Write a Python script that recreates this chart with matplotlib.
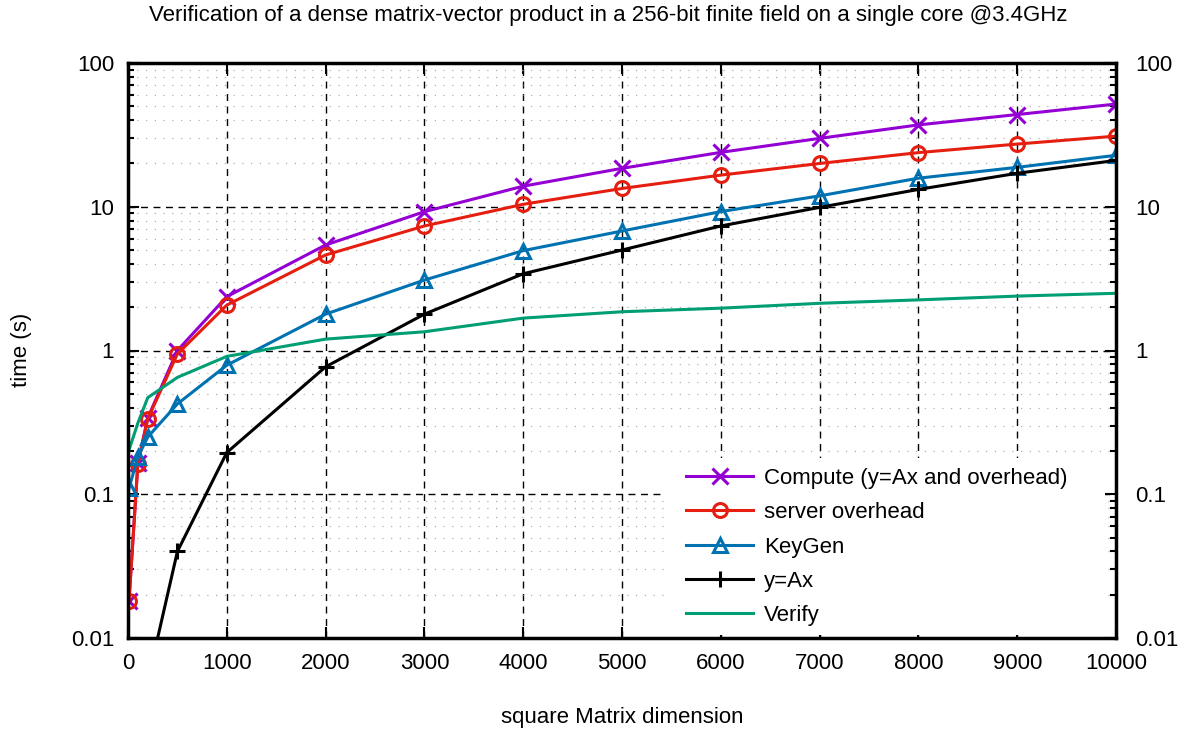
import matplotlib
matplotlib.use("Agg")
import matplotlib.pyplot as plt
from matplotlib.patches import Rectangle
from matplotlib.ticker import LogLocator, FixedLocator, NullFormatter, FuncFormatter

plt.rcParams['font.family'] = ['Liberation Sans', 'DejaVu Sans']
plt.rcParams['font.size'] = 16

# matrix dimension
n = [10, 100, 200, 500, 1000, 2000, 3000, 4000, 5000, 6000, 7000, 8000, 9000, 10000]

compute = [0.018, 0.165, 0.34, 1.0, 2.37, 5.42, 9.24, 13.9, 18.5, 23.9, 29.9, 37.1, 43.8, 51.8]
server = [0.018, 0.162, 0.334, 0.946, 2.07, 4.62, 7.35, 10.4, 13.4, 16.6, 20.0, 23.8, 27.3, 31.0]
keygen = [0.11, 0.182, 0.25, 0.425, 0.79, 1.79, 3.09, 4.95, 6.78, 9.25, 11.9, 15.8, 18.8, 22.8]
yax = [0.00002, 0.0013, 0.005, 0.040, 0.195, 0.77, 1.79, 3.42, 5.0, 7.35, 9.9, 13.2, 17.1, 21.0]
verify = [0.203, 0.313, 0.47, 0.65, 0.91, 1.2, 1.35, 1.68, 1.86, 1.97, 2.13, 2.25, 2.39, 2.5]

fig = plt.figure(figsize=(11.84, 7.36), dpi=100)
ax = fig.add_axes([128/1184, 1-638/736, (1116-128)/1184, (638-63)/736])

lw = 2.2
ax.plot(n, compute, color='#9400d3', lw=lw, marker='x', ms=12, mew=lw,
        label='Compute (y=Ax and overhead)')
ax.plot(n, server, color='#e51e10', lw=lw, marker='o', ms=10, mew=lw,
        mfc='none', label='server overhead')
ax.plot(n, keygen, color='#0072b2', lw=lw, marker='^', ms=10, mew=lw,
        mfc='none', label='KeyGen')
ax.plot(n, yax, color='black', lw=lw, marker='+', ms=12, mew=lw, label='y=Ax')
ax.plot(n, verify, color='#009e73', lw=lw, label='Verify')

ax.set_yscale('log')
ax.set_xlim(0, 10000)
ax.set_ylim(0.01, 100)
ax.xaxis.set_major_locator(FixedLocator(range(0, 10001, 1000)))
ax.yaxis.set_major_locator(LogLocator(base=10, numticks=10))
ax.yaxis.set_minor_locator(LogLocator(base=10, subs=range(2, 10), numticks=20))
ax.yaxis.set_minor_formatter(NullFormatter())
fmt = FuncFormatter(lambda v, p: '%g' % v)
ax.yaxis.set_major_formatter(fmt)

ax.grid(True, which='major', color='black', lw=1.0, linestyle=(0, (5, 4)))
ax.grid(True, which='minor', axis='y', color='#b0b0b0', lw=0.9, linestyle=(0, (1, 6)))

ax.tick_params(which='both', direction='in', top=True, right=True, width=1.5)
ax.tick_params(which='major', length=8)
ax.tick_params(which='minor', length=4)
ax.tick_params(axis='y', pad=10)
ax.tick_params(axis='x', pad=11)
for s in ax.spines.values():
    s.set_linewidth(2.5)

# right side labels
ax2 = ax.twinx()
ax2.set_yscale('log')
ax2.set_ylim(ax.get_ylim())
ax2.yaxis.set_major_locator(LogLocator(base=10, numticks=10))
ax2.yaxis.set_minor_locator(LogLocator(base=10, subs=range(2, 10), numticks=20))
ax2.yaxis.set_minor_formatter(NullFormatter())
ax2.yaxis.set_major_formatter(fmt)
ax2.tick_params(which='both', direction='in', width=1.5)
ax2.tick_params(which='major', length=8, pad=14)
ax2.tick_params(which='minor', length=4)
for s in ax2.spines.values():
    s.set_visible(False)

# white background behind the key (hides the grid there)
ax.add_patch(Rectangle((0.5435, 0.0104), 0.989 - 0.5435, 0.313 - 0.0104,
                       transform=ax.transAxes, facecolor='white',
                       edgecolor='none', zorder=1.8))

leg = ax.legend(loc='lower right', bbox_to_anchor=(0.96, 0.005), frameon=True,
                fancybox=False, edgecolor='none', facecolor='white', framealpha=1,
                handlelength=3.0, handletextpad=0.5, labelspacing=0.6,
                borderpad=0.4, borderaxespad=0)
ax.set_zorder(ax2.get_zorder() + 1)
ax.patch.set_visible(False)

fig.text(608/1184, 1-15/736, 'Verification of a dense matrix-vector product in a 256-bit finite field on a single core @3.4GHz',
         ha='center', va='center')
fig.text(622/1184, 1-718/736, 'square Matrix dimension', ha='center', va='center')
fig.text(22/1184, 1-350/736, 'time (s)', ha='center', va='center', rotation=90)

fig.savefig('out.png', dpi=100)
